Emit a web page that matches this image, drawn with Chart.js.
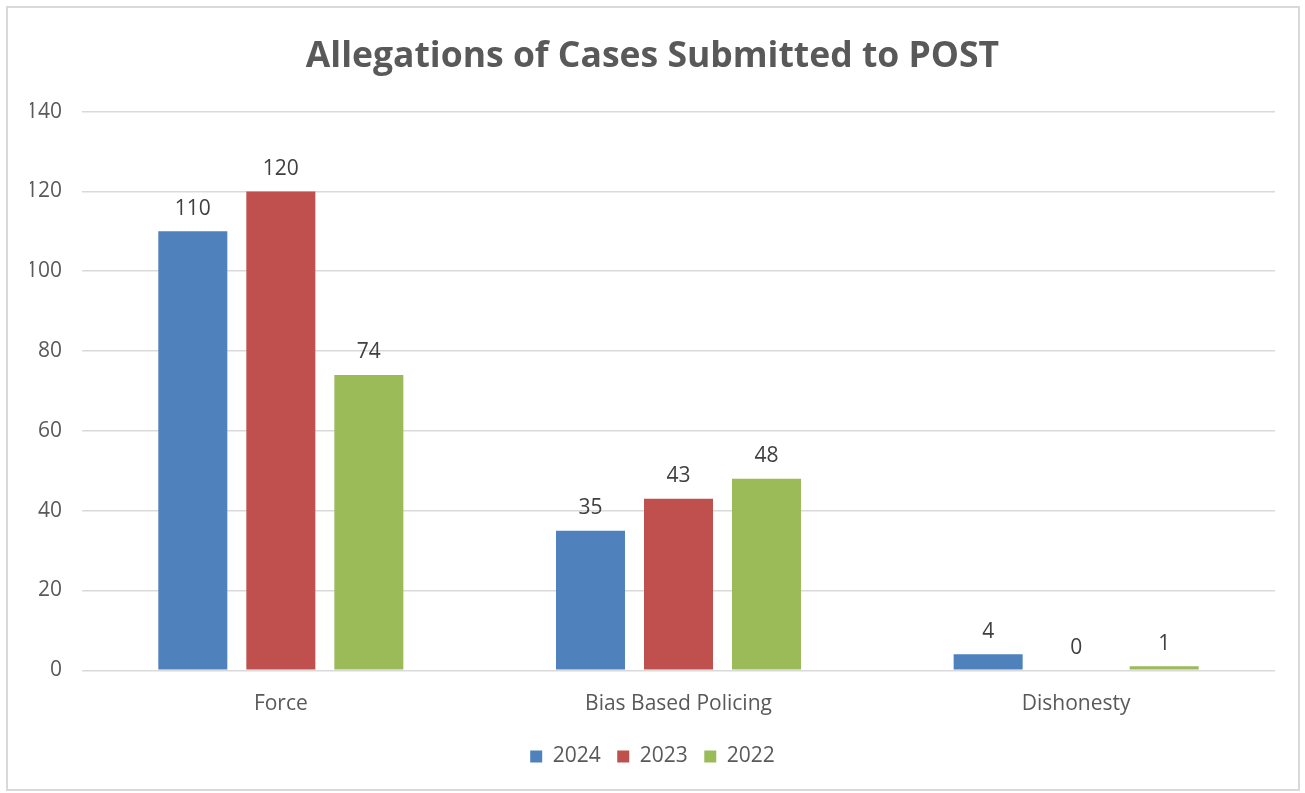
<!DOCTYPE html>
<html>
<head>
<meta charset="utf-8">
<script src="https://cdn.jsdelivr.net/npm/chart.js@4.4.0/dist/chart.umd.min.js"></script>
<style>
  html, body { margin: 0; padding: 0; background: #fff; }
  #wrap { position: relative; width: 1305px; height: 793px; }
</style>
</head>
<body>
<div id="wrap"><canvas id="chart"></canvas></div>
<script>
const categories = ['Force', 'Bias Based Policing', 'Dishonesty'];
const years = ['2024', '2023', '2022'];
const values2024 = [110, 35, 4];
const values2023 = [120, 43, 0];
const values2022 = [74, 48, 1];
const yTicks = [0, 20, 40, 60, 80, 100, 120, 140];

const colors = ['#4F81BD', '#C0504D', '#9BBB59'];
const FONT = "'Open Sans', sans-serif";

// frame around the whole chart
const framePlugin = {
  id: 'frame',
  beforeDraw(chart) {
    const ctx = chart.ctx;
    ctx.save();
    ctx.strokeStyle = '#d9d9d9';
    ctx.lineWidth = 2;
    ctx.strokeRect(7, 7, 1292, 783);
    ctx.restore();
  }
};

// value labels on top of each bar
const barLabels = {
  id: 'barLabels',
  afterDatasetsDraw(chart) {
    const ctx = chart.ctx;
    ctx.save();
    ctx.font = '21px ' + FONT;
    ctx.fillStyle = '#404040';
    ctx.textAlign = 'center';
    ctx.textBaseline = 'bottom';
    chart.data.datasets.forEach((ds, i) => {
      chart.getDatasetMeta(i).data.forEach((bar, j) => {
        ctx.fillText(String(ds.data[j]), bar.x, bar.y - 12);
      });
    });
    ctx.restore();
  }
};

new Chart(document.getElementById('chart'), {
  type: 'bar',
  data: {
    labels: categories,
    datasets: [
      { label: years[0], data: values2024, backgroundColor: colors[0] },
      { label: years[1], data: values2023, backgroundColor: colors[1] },
      { label: years[2], data: values2022, backgroundColor: colors[2] }
    ]
  },
  options: {
    responsive: true,
    maintainAspectRatio: false,
    animation: false,
    categoryPercentage: 0.664,
    barPercentage: 0.784,
    layout: { padding: { left: 30, right: 30, top: 0, bottom: 16 } },
    plugins: {
      title: {
        display: true,
        text: 'Allegations of Cases Submitted to POST',
        color: '#595959',
        font: { family: FONT, size: 35.5, weight: 'bold' },
        padding: { top: 36, bottom: 33 }
      },
      legend: {
        position: 'bottom',
        labels: {
          color: '#595959',
          font: { family: FONT, size: 21 },
          boxWidth: 12,
          boxHeight: 12,
          padding: 16.5
        }
      },
      tooltip: { enabled: false }
    },
    scales: {
      x: {
        grid: { display: false },
        border: { display: false },
        ticks: { color: '#595959', font: { family: FONT, size: 21 }, padding: 13 }
      },
      y: {
        min: 0,
        max: 140,
        afterFit(scale) { scale.width = 52; },
        afterBuildTicks(scale) { scale.ticks = yTicks.map(v => ({ value: v })); },
        grid: { color: '#d9d9d9', lineWidth: 1.5, drawTicks: false },
        border: { display: false },
        ticks: { color: '#595959', font: { family: FONT, size: 21 }, padding: 20 }
      }
    }
  },
  plugins: [framePlugin, barLabels]
});
</script>
</body>
</html>
